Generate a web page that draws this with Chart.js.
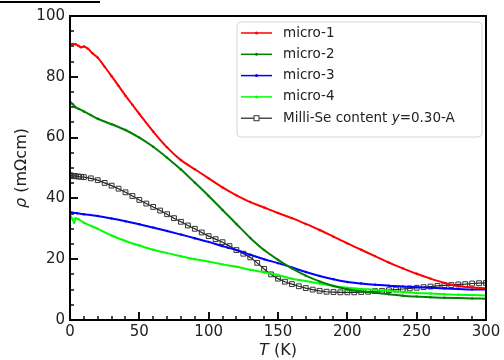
<!DOCTYPE html>
<html>
<head>
<meta charset="utf-8">
<script src="https://cdn.jsdelivr.net/npm/chart.js@4.4.1/dist/chart.umd.min.js"></script>
<style>
  html, body { margin: 0; padding: 0; background: #fff; }
  #wrap { width: 504px; height: 360px; }
</style>
</head>
<body>
<div id="wrap"><canvas id="chart" width="504" height="360"></canvas></div>
<script>
// temperature (K) and resistivity (mOhm cm)
const tMicro1 = [0, 2, 4, 6, 8, 10, 13, 16, 20, 25, 30, 35, 40, 45, 50, 60, 70, 80, 90, 100, 110, 120, 130, 140, 150, 160, 170, 180, 190, 200, 210, 220, 230, 240, 250, 260, 270, 280, 290, 300];
const rhoMicro1 = [90.7, 90.8, 90.7, 90.2, 89.7, 90.0, 89.2, 87.8, 86.3, 83.3, 80.2, 77.0, 73.8, 70.8, 67.8, 62.0, 56.8, 52.6, 49.6, 46.6, 43.6, 41.0, 38.8, 37.0, 35.2, 33.5, 31.6, 29.6, 27.4, 25.2, 23.1, 21.0, 18.9, 17.0, 15.2, 13.6, 12.2, 11.2, 10.7, 10.4];

const tMicro2 = [0, 2, 4, 6, 10, 15, 20, 30, 40, 50, 60, 70, 80, 90, 100, 110, 120, 130, 140, 150, 160, 170, 180, 190, 200, 210, 220, 230, 240, 250, 260, 270, 280, 290, 300];
const rhoMicro2 = [71.8, 71.0, 70.0, 69.5, 68.6, 67.4, 66.2, 64.4, 62.5, 60.0, 57.0, 53.4, 49.5, 45.2, 40.8, 36.2, 31.6, 27.0, 23.0, 19.8, 17.0, 14.6, 12.7, 11.2, 10.1, 9.4, 9.0, 8.5, 8.0, 7.7, 7.5, 7.3, 7.2, 7.1, 7.0];

const tMicro3 = [0, 5, 10, 20, 30, 40, 50, 60, 70, 80, 90, 100, 110, 120, 130, 140, 150, 160, 170, 180, 190, 200, 210, 220, 230, 240, 250, 260, 270, 280, 290, 300];
const rhoMicro3 = [35.5, 35.1, 34.8, 34.2, 33.4, 32.5, 31.5, 30.4, 29.3, 28.1, 26.9, 25.7, 24.3, 23.0, 21.5, 20.0, 18.7, 17.3, 15.8, 14.5, 13.4, 12.5, 12.0, 11.6, 11.3, 11.0, 10.8, 10.6, 10.4, 10.2, 10.0, 10.0];

const tMicro4 = [0, 2, 3, 4, 6, 10, 20, 30, 40, 50, 60, 70, 80, 90, 100, 110, 120, 130, 140, 150, 160, 170, 180, 190, 200, 210, 220, 230, 240, 250, 260, 270, 280, 290, 300];
const rhoMicro4 = [34.5, 33.0, 32.0, 33.5, 33.2, 32.0, 30.0, 27.8, 26.0, 24.5, 23.1, 22.0, 21.0, 20.0, 19.2, 18.3, 17.5, 16.5, 15.7, 14.8, 13.6, 12.8, 12.0, 11.2, 10.6, 10.2, 9.9, 9.6, 9.2, 8.9, 8.7, 8.5, 8.3, 8.2, 8.1];

const tMilli = [0, 1, 2, 3, 4, 6, 8, 10, 15, 20, 25, 30, 35, 40, 45, 50, 55, 60, 65, 70, 75, 80, 85, 90, 95, 100, 105, 110, 115, 120, 125, 130, 135, 140, 145, 150, 155, 160, 165, 170, 175, 180, 185, 190, 195, 200, 205, 210, 215, 220, 225, 230, 235, 240, 245, 250, 255, 260, 265, 270, 275, 280, 285, 290, 295, 300];
const rhoMilli = [47.6, 47.5, 47.4, 47.4, 47.3, 47.2, 47.1, 47.0, 46.6, 46.0, 45.1, 44.2, 43.2, 42.0, 40.8, 39.5, 38.3, 37.2, 36.0, 34.8, 33.5, 32.3, 31.1, 30.0, 28.8, 27.6, 26.6, 25.6, 24.3, 23.0, 21.8, 20.6, 18.8, 16.8, 15.0, 13.6, 12.6, 11.8, 11.1, 10.5, 10.0, 9.6, 9.3, 9.2, 9.1, 9.1, 9.1, 9.2, 9.3, 9.5, 9.6, 9.8, 10.0, 10.2, 10.4, 10.6, 10.8, 11.0, 11.2, 11.4, 11.5, 11.7, 11.8, 12.0, 12.1, 12.2];

const labels = ['micro-1', 'micro-2', 'micro-3', 'micro-4', 'Milli-Se content y=0.30-A'];
const colors = ['#ff0000', '#008000', '#0000ff', '#00ff00', '#000000'];
const xTicks = [0, 50, 100, 150, 200, 250, 300];
const yTicks = [0, 20, 40, 60, 80, 100];

const FONT = "'DejaVu Sans', sans-serif";

function pts(ts, vs) {
  return ts.map((t, i) => ({ x: t, y: vs[i] }));
}

function lineSet(i, ts, vs) {
  return {
    label: labels[i],
    data: pts(ts, vs),
    borderColor: colors[i],
    backgroundColor: colors[i],
    borderWidth: 2,
    pointRadius: 1.2,
    pointBorderWidth: 0,
    pointHoverRadius: 1.2,
    cubicInterpolationMode: 'monotone'
  };
}

const datasets = [
  lineSet(0, tMicro1, rhoMicro1),
  lineSet(1, tMicro2, rhoMicro2),
  lineSet(2, tMicro3, rhoMicro3),
  lineSet(3, tMicro4, rhoMicro4),
  {
    label: labels[4],
    data: pts(tMilli, rhoMilli),
    borderColor: '#222',
    backgroundColor: 'rgba(255,255,255,0)',
    pointBorderColor: '#333',
    borderWidth: 1.2,
    pointStyle: 'rect',
    pointRadius: 3.4,
    pointBorderWidth: 1,
    tension: 0
  }
];

// frame, inward ticks, axis titles, legend box
const decor = {
  id: 'decor',
  afterDatasetsDraw(chart) {
    const { ctx, chartArea: a, scales: { x, y } } = chart;
    ctx.save();
    ctx.fillStyle = '#111';
    // minor ticks
    for (let v = 10; v < 300; v += 10) {
      if (v % 50 === 0) continue;
      const px = Math.round(x.getPixelForValue(v));
      ctx.fillRect(px - 0.75, a.bottom - 4, 1.5, 4);
    }
    for (let v = 5; v < 100; v += 5) {
      if (v % 20 === 0) continue;
      const py = Math.round(y.getPixelForValue(v));
      ctx.fillRect(a.left, py - 0.75, 4, 1.5);
    }
    // major ticks
    xTicks.forEach(v => {
      const px = Math.round(x.getPixelForValue(v));
      ctx.fillRect(px - 1, a.bottom - 8, 2, 8);
    });
    yTicks.forEach(v => {
      const py = Math.round(y.getPixelForValue(v));
      ctx.fillRect(a.left, py - 1, 8, 2);
    });
    ctx.lineWidth = 2;
    ctx.strokeStyle = '#000';
    ctx.strokeRect(a.left, a.top, a.right - a.left, a.bottom - a.top);

    // stray rule at the top-left corner of the source image
    ctx.fillStyle = '#000';
    ctx.fillRect(0, 1, 100, 2);

    // axis titles
    ctx.fillStyle = '#222';
    ctx.textBaseline = 'middle';
    ctx.textAlign = 'left';
    const xt1 = 'T', xt2 = ' (K)';
    ctx.font = 'italic 16px ' + FONT;
    const w1 = ctx.measureText(xt1).width;
    ctx.font = '16px ' + FONT;
    const w2 = ctx.measureText(xt2).width;
    const cx = (a.left + a.right) / 2 - (w1 + w2) / 2;
    ctx.font = 'italic 16px ' + FONT;
    ctx.fillText(xt1, cx, 351);
    ctx.font = '16px ' + FONT;
    ctx.fillText(xt2, cx + w1, 351);

    ctx.save();
    ctx.translate(22, (a.top + a.bottom) / 2);
    ctx.rotate(-Math.PI / 2);
    const yt1 = 'ρ', yt2 = ' (mΩcm)';
    ctx.font = 'italic 16px ' + FONT;
    const v1 = ctx.measureText(yt1).width;
    ctx.font = '16px ' + FONT;
    const v2 = ctx.measureText(yt2).width;
    ctx.font = 'italic 16px ' + FONT;
    ctx.fillText(yt1, -(v1 + v2) / 2, 0);
    ctx.font = '16px ' + FONT;
    ctx.fillText(yt2, -(v1 + v2) / 2 + v1, 0);
    ctx.restore();

    // legend
    const lx = 237, ly = 22, lw = 245, lh = 115;
    ctx.beginPath();
    ctx.roundRect(lx, ly, lw, lh, 4);
    ctx.fillStyle = 'rgba(255,255,255,0.85)';
    ctx.fill();
    ctx.lineWidth = 1;
    ctx.strokeStyle = '#d6d6d6';
    ctx.stroke();

    chart.data.datasets.forEach((ds, i) => {
      const ry = 33 + i * 21.3;
      ctx.strokeStyle = ds.borderColor;
      ctx.lineWidth = i === 4 ? 1.2 : 1.5;
      ctx.beginPath();
      ctx.moveTo(241, ry); ctx.lineTo(272, ry);
      ctx.stroke();
      if (i === 4) {
        ctx.lineWidth = 1;
        ctx.fillStyle = '#fff';
        ctx.fillRect(254, ry - 2.5, 5, 5);
        ctx.strokeStyle = '#333';
        ctx.strokeRect(254, ry - 2.5, 5, 5);
      } else {
        ctx.fillStyle = ds.borderColor;
        ctx.beginPath();
        ctx.arc(256.5, ry, 1.5, 0, Math.PI * 2);
        ctx.fill();
      }
      ctx.fillStyle = '#222';
      ctx.textAlign = 'left';
      ctx.textBaseline = 'middle';
      if (i === 4) {
        let px = 283;
        const parts = [['Milli-Se content ', ''], ['y', 'italic '], ['=0.30-A', '']];
        parts.forEach(([s, st]) => {
          ctx.font = st + '13.5px ' + FONT;
          ctx.fillText(s, px, ry);
          px += ctx.measureText(s).width;
        });
      } else {
        ctx.font = '13.5px ' + FONT;
        ctx.fillText(ds.label, 283, ry);
      }
    });
    ctx.restore();
  }
};

new Chart(document.getElementById('chart'), {
  type: 'line',
  data: { datasets },
  options: {
    responsive: false,
    devicePixelRatio: 1,
    animation: false,
    events: [],
    layout: { padding: { top: 16, right: 18, left: 0, bottom: 0 } },
    plugins: { legend: { display: false }, tooltip: { enabled: false } },
    scales: {
      x: {
        type: 'linear',
        min: 0, max: 300,
        afterFit(s) { s.height = 40; },
        afterBuildTicks(s) { s.ticks = xTicks.map(v => ({ value: v })); },
        grid: { display: false, drawTicks: false },
        border: { display: false },
        ticks: { color: '#222', padding: 3, maxRotation: 0, font: { family: FONT, size: 15 } }
      },
      y: {
        type: 'linear',
        min: 0, max: 100,
        afterFit(s) { s.width = 70; },
        afterBuildTicks(s) { s.ticks = yTicks.map(v => ({ value: v })); },
        grid: { display: false, drawTicks: false },
        border: { display: false },
        ticks: { color: '#222', padding: 5, font: { family: FONT, size: 15 } }
      }
    }
  },
  plugins: [decor]
});
</script>
</body>
</html>
